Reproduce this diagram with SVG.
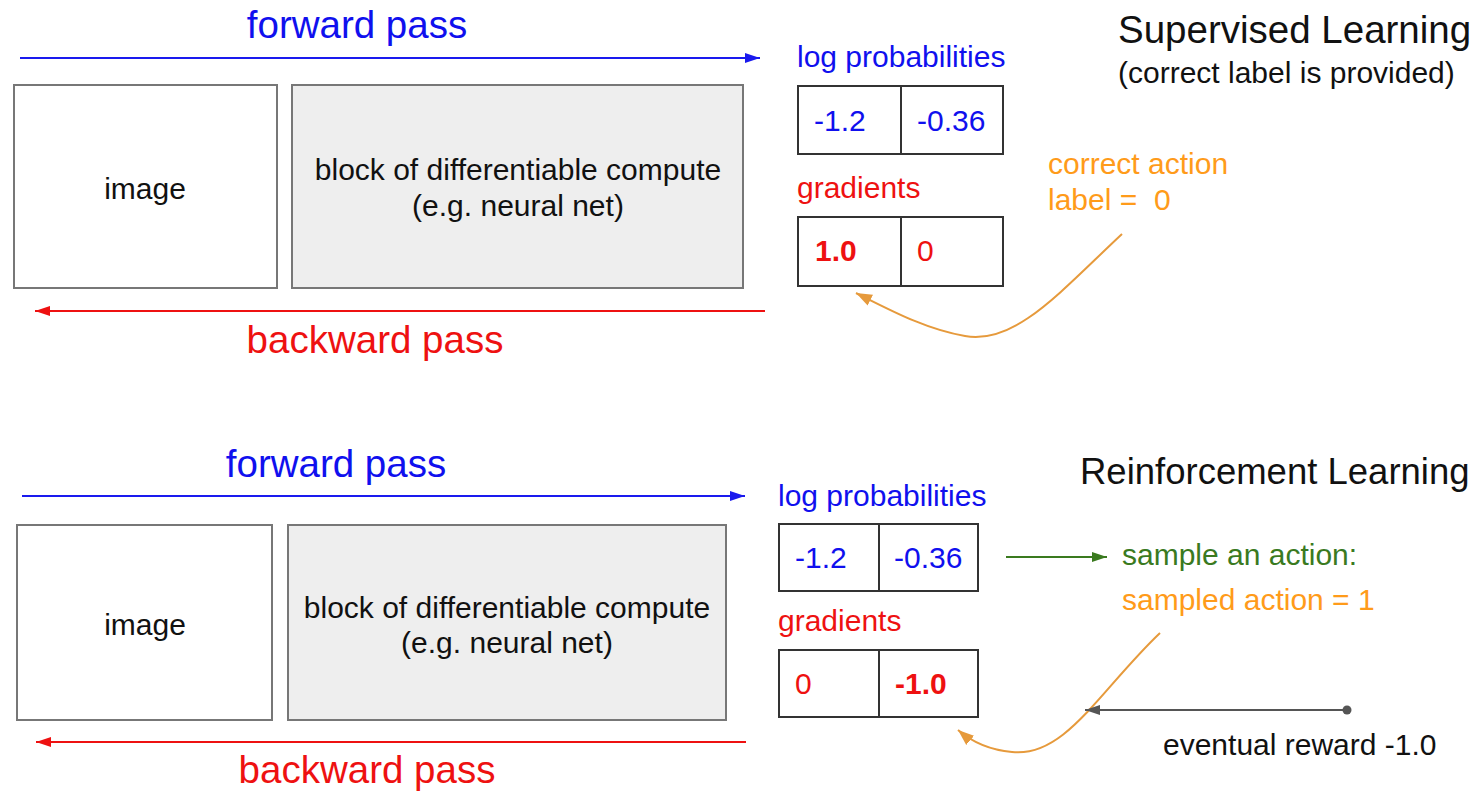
<svg xmlns="http://www.w3.org/2000/svg" width="1482" height="791" viewBox="0 0 1482 791">
  <style>
    text { font-family: "Liberation Sans", Arial, sans-serif; }
    .box { fill: #ffffff; stroke: #777777; stroke-width: 2; }
    .grey { fill: #eeeeee; stroke: #777777; stroke-width: 2; }
    .cell { fill: #ffffff; stroke: #333333; stroke-width: 2; }
    .lbl { font-size: 30px; fill: #111111; }
    .pass { font-size: 38.5px; }
    .blue { fill: #1010ee; }
    .red { fill: #ee1111; }
    .orange { fill: #ff9b1a; }
    .green { fill: #3a7a1f; }
    .title { font-size: 38.5px; fill: #111111; }
    .title2 { font-size: 36.5px; fill: #111111; }
    .num { font-size: 30px; }
    .bold { font-weight: bold; }
  </style>
  <defs>
    <marker id="ahBlue" markerUnits="userSpaceOnUse" markerWidth="16" markerHeight="12" refX="15" refY="6" orient="auto">
      <path d="M0,1 L15,6 L0,11 Z" fill="#1a1aee"/>
    </marker>
    <marker id="ahRed" markerUnits="userSpaceOnUse" markerWidth="16" markerHeight="12" refX="15" refY="6" orient="auto">
      <path d="M0,1 L15,6 L0,11 Z" fill="#ee1111"/>
    </marker>
    <marker id="ahGreen" markerUnits="userSpaceOnUse" markerWidth="16" markerHeight="12" refX="15" refY="6" orient="auto">
      <path d="M0,1 L15,6 L0,11 Z" fill="#3a7a1f"/>
    </marker>
    <marker id="ahGrey" markerUnits="userSpaceOnUse" markerWidth="16" markerHeight="12" refX="15" refY="6" orient="auto">
      <path d="M0,1 L15,6 L0,11 Z" fill="#555555"/>
    </marker>
    <marker id="ahOrange" markerUnits="userSpaceOnUse" markerWidth="18" markerHeight="14" refX="16" refY="7" orient="auto">
      <path d="M0,1 L16,7 L0,13 Z" fill="#e69a3c"/>
    </marker>
  </defs>

  <!-- ===== Supervised learning ===== -->
  <g id="sl-title">
    <text class="title" x="1118" y="43">Supervised Learning</text>
    <text x="1118" y="83" font-size="30" fill="#111">(correct label is provided)</text>
  </g>
  <g id="sl-forward-label"><text class="pass blue" x="357" y="38" text-anchor="middle">forward pass</text></g>
  <g id="sl-backward-label"><text class="pass red" x="375" y="353" text-anchor="middle">backward pass</text></g>

  <g id="sl-image">
    <rect class="box" x="14" y="85" width="263" height="203"/>
    <text class="lbl" x="145" y="199" text-anchor="middle">image</text>
  </g>
  <g id="sl-block">
    <rect class="grey" x="292" y="85" width="451" height="203"/>
    <text class="lbl" x="518" y="180" text-anchor="middle">block of differentiable compute</text>
    <text class="lbl" x="518" y="216" text-anchor="middle">(e.g. neural net)</text>
  </g>

  <g id="sl-logprob">
    <text class="num blue" x="797" y="67">log probabilities</text>
    <rect class="cell" x="798" y="86" width="205" height="68"/>
    <line x1="901" y1="86" x2="901" y2="154" stroke="#333" stroke-width="2"/>
    <text class="num blue" x="814" y="131">-1.2</text>
    <text class="num blue" x="917" y="131">-0.36</text>
  </g>
  <g id="sl-gradients">
    <text class="num red" x="797" y="198">gradients</text>
    <rect class="cell" x="798" y="217" width="205" height="69"/>
    <line x1="901" y1="217" x2="901" y2="286" stroke="#333" stroke-width="2"/>
    <text class="num red bold" x="815" y="261">1.0</text>
    <text class="num red" x="917" y="261">0</text>
  </g>
  <g id="sl-label">
    <text class="num orange" x="1048" y="174">correct action</text>
    <text class="num orange" x="1048" y="210" xml:space="preserve">label =  0</text>
  </g>

  <!-- ===== Reinforcement learning ===== -->
  <g id="rl-title">
    <text class="title2" x="1080" y="484">Reinforcement Learning</text>
  </g>
  <g id="rl-forward-label"><text class="pass blue" x="336" y="477" text-anchor="middle">forward pass</text></g>
  <g id="rl-backward-label"><text class="pass red" x="367" y="783" text-anchor="middle">backward pass</text></g>

  <g id="rl-image">
    <rect class="box" x="17" y="525" width="255" height="195"/>
    <text class="lbl" x="145" y="635" text-anchor="middle">image</text>
  </g>
  <g id="rl-block">
    <rect class="grey" x="288" y="525" width="438" height="195"/>
    <text class="lbl" x="507" y="618" text-anchor="middle">block of differentiable compute</text>
    <text class="lbl" x="507" y="653" text-anchor="middle">(e.g. neural net)</text>
  </g>

  <g id="rl-logprob">
    <text class="num blue" x="778" y="506">log probabilities</text>
    <rect class="cell" x="779" y="524" width="199" height="67"/>
    <line x1="879" y1="524" x2="879" y2="591" stroke="#333" stroke-width="2"/>
    <text class="num blue" x="795" y="568">-1.2</text>
    <text class="num blue" x="894" y="568">-0.36</text>
  </g>
  <g id="rl-gradients">
    <text class="num red" x="778" y="631">gradients</text>
    <rect class="cell" x="779" y="650" width="199" height="67"/>
    <line x1="879" y1="650" x2="879" y2="717" stroke="#333" stroke-width="2"/>
    <text class="num red" x="795" y="694">0</text>
    <text class="num red bold" x="895" y="694">-1.0</text>
  </g>
  <g id="rl-sample">
    <text class="num green" x="1122" y="565">sample an action:</text>
    <text class="num orange" x="1122" y="610">sampled action = 1</text>
  </g>
  <g id="rl-reward">
    <text class="num" x="1163" y="755" fill="#111">eventual reward -1.0</text>
  </g>

  <!-- ===== connectors ===== -->
  <g id="connectors" fill="none">
    <line x1="20" y1="58" x2="760" y2="58" stroke="#1a1aee" stroke-width="2" marker-end="url(#ahBlue)"/>
    <line x1="765" y1="311" x2="35" y2="311" stroke="#ee1111" stroke-width="2" marker-end="url(#ahRed)"/>
    <path d="M1122,234 C1060,292 1015,345 965,336 C925,329 890,310 856,293" stroke="#e69a3c" stroke-width="2" marker-end="url(#ahOrange)"/>

    <line x1="22" y1="496" x2="745" y2="496" stroke="#1a1aee" stroke-width="2" marker-end="url(#ahBlue)"/>
    <line x1="746" y1="742" x2="36" y2="742" stroke="#ee1111" stroke-width="2" marker-end="url(#ahRed)"/>
    <line x1="1006" y1="557" x2="1107" y2="557" stroke="#3a7a1f" stroke-width="2" marker-end="url(#ahGreen)"/>
    <path d="M1160,633 C1100,690 1065,758 1012,752 C990,750 972,742 958,730" stroke="#e69a3c" stroke-width="2" marker-end="url(#ahOrange)"/>
    <line x1="1347" y1="710" x2="1085" y2="710" stroke="#555555" stroke-width="2" marker-end="url(#ahGrey)"/>
    <circle cx="1347" cy="710" r="4.5" fill="#555555"/>
  </g>
</svg>
